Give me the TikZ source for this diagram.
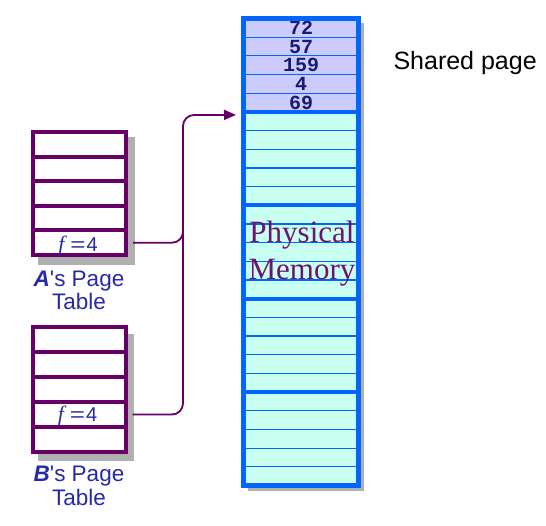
\documentclass[tikz,border=0pt]{standalone}
\usepackage{graphicx}
\usepackage{fontspec}
\setmainfont{Liberation Serif}
\newfontfamily\arialf{Liberation Sans}
\newfontfamily\monof{Liberation Mono}
\usetikzlibrary{arrows.meta,calc}
\definecolor{ptpurple}{RGB}{102,0,102}
\definecolor{memblue}{RGB}{0,102,255}
\definecolor{sharedfill}{RGB}{204,204,255}
\definecolor{memfill}{RGB}{200,255,240}
\definecolor{labelblue}{RGB}{40,40,170}
\definecolor{numblue}{RGB}{26,26,110}
\definecolor{shadowgray}{RGB}{176,176,176}
\definecolor{textpurple}{RGB}{110,20,110}
\newcommand{\fval}{{\fontsize{22}{22}\selectfont\itshape f}\hspace{6pt}{\arialf\scalebox{1.3}[1]{=}\hspace{1pt}4}}
\begin{document}
\begin{tikzpicture}[x=1pt,y=-1pt,
  memrow/.style={draw=memblue, line width=1.2pt, fill=memfill, minimum width=115pt, minimum height=18.68pt, inner sep=0pt, outer sep=0pt},
  sharedrow/.style={memrow, fill=sharedfill, font=\monof\bfseries\fontsize{20}{20}\selectfont, text=numblue},
  ptrow/.style={draw=ptpurple, line width=4pt, fill=white, minimum width=93pt, inner sep=0pt, outer sep=0pt},
  ptlabel/.style={font=\arialf\fontsize{22.5}{23.3}\selectfont, text=labelblue, anchor=base},
  ftext/.style={font=\fontsize{20}{20}\selectfont, text=labelblue, anchor=base},
  bigtext/.style={font=\fontsize{31}{31}\selectfont, text=textpurple, anchor=base},
  conn/.style={draw=ptpurple, line width=1.8pt, rounded corners=11pt},
  shadow/.style={fill=shadowgray}
]
\useasboundingbox (0,0) rectangle (546,526);

% ---------- physical memory ----------
\fill[shadow] (248,23) rectangle (364,491);
\foreach \i/\t in {1/72,2/57,3/159,4/4,5/69}
  \node[sharedrow] (m\i) at (301,{18.5+(\i-0.5)*18.68}) {\t};
\foreach \i in {6,...,25}
  \node[memrow] (m\i) at (301,{18.5+(\i-0.5)*18.68}) {};
\foreach \i in {5,10,15,20}
  \draw[memblue, line width=4pt] (m\i.south west) -- (m\i.south east);
\draw[memblue, line width=5pt] (m1.north west) rectangle (m25.south east);

\node[bigtext] (phys) at (302,243) {Physical};
\node[bigtext] (mem) at (302,280) {Memory};

\node[font=\arialf\fontsize{25}{25}\selectfont, anchor=base west] (shared) at (390,70) {Shared page};

% ---------- A's page table ----------
\fill[shadow] (38,137) rectangle (135,265);
\foreach \i in {1,...,5}
  \node[ptrow, minimum height=24.6pt] (a\i) at (79.5,{132+(\i-0.5)*24.6}) {};
\draw[ptpurple, line width=4pt] (a1.north west) rectangle (a5.south east);
\node[ftext] (fa) at (78,251.7) {\fval};
\node[ptlabel] (la1) at (79,286.7) {\textbf{\textit{A}}'s Page};
\node[ptlabel] (la2) at (79,310) {Table};

% ---------- B's page table ----------
\fill[shadow] (38,334) rectangle (134,461);
\foreach \i in {1,...,5}
  \node[ptrow, minimum height=25pt] (b\i) at (79,{327+(\i-0.5)*25}) {};
\draw[ptpurple, line width=4pt] (b1.north west) rectangle (b5.south east);
\node[ftext] (fb) at (77.5,421.7) {\fval};
\node[ptlabel] (lb1) at (79,481.5) {\textbf{\textit{B}}'s Page};
\node[ptlabel] (lb2) at (79,505.5) {Table};

% ---------- connectors ----------
\coordinate (tip) at ([shift={(-7.5,3)}]m6.north west);
\coordinate (bend) at (183,115);
\draw[conn, -{Triangle[length=12pt,width=10pt]}] ([xshift=7pt]a5.east) -| (bend) -- (tip);
\draw[conn] ([xshift=7pt]b4.east) -| ($(bend)+(0,30)$);
\end{tikzpicture}
\end{document}
